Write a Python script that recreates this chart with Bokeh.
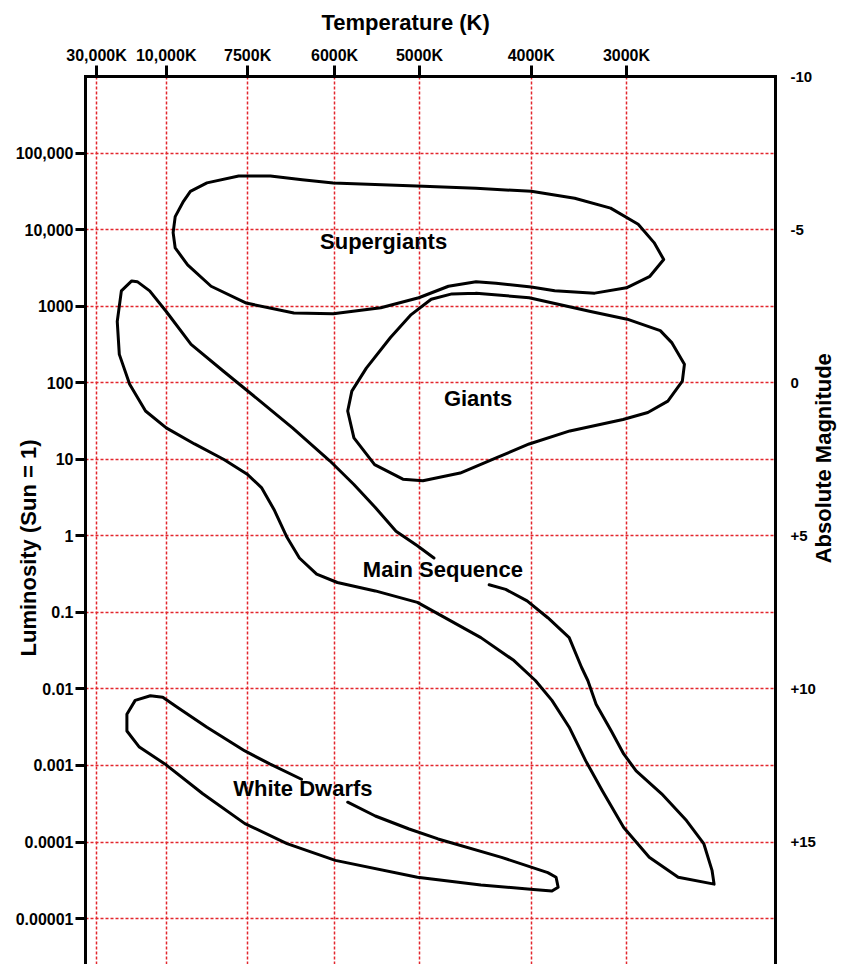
import json
import math
from bokeh.plotting import figure
from bokeh.models import (Range1d, LinearAxis, LinearScale, FixedTicker,
                          CustomJSTickFormatter, Title, ColumnDataSource)
from bokeh.core.properties import value
from bokeh.embed import file_html
from bokeh.resources import INLINE

# ---------------- data ----------------
# horizontal scale: position of each temperature on the diagram (0..10 units across)
temp_labels = ["30,000K", "10,000K", "7500K", "6000K", "5000K", "4000K", "3000K"]
temp_pos = [0.16, 1.17, 2.35, 3.61, 4.84, 6.46, 7.84]

lum_ticks = [1e5, 1e4, 1e3, 100, 10, 1, 0.1, 0.01, 0.001, 1e-4, 1e-5]
lum_labels = ["100,000", "10,000", "1000", "100", "10", "1",
              "0.1", "0.01", "0.001", "0.0001", "0.00001"]
mag_ticks = [-10, -5, 0, 5, 10, 15]

log_lum_min, log_lum_max = -5.6, 6.0

supergiants_x = [1.27, 1.30, 1.42, 1.52, 1.76, 2.22, 2.68, 3.14, 3.59, 4.80, 5.66, 6.46,
                 7.09, 7.61, 8.01, 8.24, 8.38, 8.18, 7.84, 7.38, 6.80, 6.46, 5.95, 5.66,
                 5.26, 4.83, 4.28, 3.59, 3.02, 2.33, 1.82, 1.48, 1.30]
supergiants_logL = [3.96, 4.17, 4.37, 4.50, 4.61, 4.70, 4.70, 4.65, 4.61, 4.57, 4.54, 4.50,
                    4.41, 4.28, 4.07, 3.83, 3.61, 3.39, 3.24, 3.17, 3.20, 3.25, 3.30, 3.32,
                    3.26, 3.11, 2.98, 2.90, 2.91, 3.04, 3.26, 3.54, 3.76]

giants_x = [5.66, 6.43, 7.32, 7.85, 8.33, 8.50, 8.68, 8.65, 8.44, 8.15, 7.79, 7.02,
            6.43, 5.96, 5.43, 4.89, 4.60, 4.19, 3.89, 3.80, 3.86, 4.07, 4.42, 4.72,
            5.01, 5.31]
giants_logL = [3.17, 3.11, 2.93, 2.83, 2.68, 2.52, 2.24, 2.02, 1.76, 1.61, 1.52, 1.37,
               1.20, 1.02, 0.82, 0.72, 0.74, 0.93, 1.28, 1.63, 1.89, 2.19, 2.59, 2.89,
               3.09, 3.16]

main_seq_x = [5.05, 4.81, 4.50, 4.20, 3.89, 3.54, 3.00, 2.53, 2.00, 1.53, 1.17, 0.93,
              0.75, 0.67, 0.52, 0.46, 0.49, 0.64, 0.87, 1.17, 1.58, 2.00, 2.35, 2.55,
              2.74, 2.92, 3.10, 3.35, 3.65, 4.20, 4.81, 5.11, 5.73, 6.21, 6.52, 6.76,
              7.01, 7.25, 7.49, 7.80, 8.17, 8.59, 9.11, 9.08, 8.96, 8.71, 8.35, 7.98,
              7.80, 7.62, 7.40, 7.28, 7.19, 7.01, 6.70, 6.40, 6.09, 5.85]
main_seq_logL = [-0.29, -0.13, 0.06, 0.37, 0.67, 0.98, 1.41, 1.76, 2.15, 2.50, 2.93, 3.20,
                 3.32, 3.33, 3.20, 2.80, 2.37, 1.98, 1.63, 1.41, 1.20, 1.00, 0.80, 0.63,
                 0.33, -0.02, -0.29, -0.50, -0.61, -0.72, -0.87, -1.02, -1.33, -1.63,
                 -1.89, -2.15, -2.50, -2.94, -3.33, -3.81, -4.20, -4.46, -4.55, -4.37,
                 -4.02, -3.72, -3.37, -3.07, -2.85, -2.55, -2.20, -1.89, -1.72, -1.33,
                 -1.07, -0.85, -0.70, -0.64]

white_dwarfs_x = [3.13, 2.67, 2.31, 1.76, 1.33, 1.12, 0.94, 0.72, 0.60, 0.60, 0.78, 1.15,
                  1.70, 2.31, 2.92, 3.62, 4.81, 5.73, 6.49, 6.76, 6.85, 6.82, 6.70, 6.03,
                  5.11, 4.69, 4.20, 3.80]
white_dwarfs_logL = [-3.18, -2.98, -2.81, -2.50, -2.24, -2.11, -2.09, -2.15, -2.33, -2.55,
                     -2.76, -2.98, -3.37, -3.76, -4.02, -4.24, -4.46, -4.56, -4.62, -4.64,
                     -4.59, -4.46, -4.40, -4.20, -3.96, -3.83, -3.66, -3.48]

region_names = ["Supergiants", "Giants", "Main Sequence", "White Dwarfs"]
region_x = [4.32, 5.69, 5.18, 3.15]
region_logL = [3.84, 1.79, -0.44, -3.30]

# ---------------- figure ----------------
FONT = "Liberation Sans"
GRID_RED = "#e3262d"
NBSP = "\u00a0"

p = figure(width=851, height=964,
           x_range=Range1d(0, 10),
           y_range=Range1d(10 ** log_lum_min, 10 ** log_lum_max),
           y_axis_type="log", x_axis_location="above",
           output_backend="svg", toolbar_location=None, title=None,
           min_border_left=85, min_border_right=76,
           min_border_top=75, min_border_bottom=0)
p.outline_line_color = None
p.background_fill_color = "white"
p.border_fill_color = "white"

# grid
p.xgrid.ticker = FixedTicker(ticks=temp_pos)
p.ygrid.ticker = FixedTicker(ticks=lum_ticks)
for g in (p.xgrid[0], p.ygrid[0]):
    g.grid_line_color = GRID_RED
    g.grid_line_dash = "3 2"
    g.grid_line_width = 1.5
    g.grid_line_alpha = 1.0
    g.minor_grid_line_color = None


def style_axis(ax, tick_out, size):
    ax.axis_line_width = 3
    ax.axis_line_color = "black"
    ax.axis_line_cap = "square"
    ax.major_tick_line_width = 3
    ax.major_tick_line_color = "black" if tick_out > 0 else None
    ax.major_tick_out = tick_out
    ax.major_tick_in = 0
    ax.minor_tick_line_color = None
    ax.major_label_text_font = FONT
    ax.major_label_text_font_style = "bold"
    ax.major_label_text_font_size = size
    ax.major_label_text_color = "black"
    ax.axis_label_text_font = FONT
    ax.axis_label_text_font_style = "bold"
    ax.axis_label_text_font_size = "22px"
    ax.axis_label_text_color = "black"


# top temperature axis
xa = p.xaxis[0]
xa.ticker = FixedTicker(ticks=temp_pos)
xa.formatter = CustomJSTickFormatter(code="""
const pos = %s; const lab = %s;
let best = 0;
for (let i = 0; i < pos.length; i++) {
  if (Math.abs(pos[i] - tick) < Math.abs(pos[best] - tick)) best = i;
}
return lab[best];
""" % (json.dumps(temp_pos), json.dumps(temp_labels)))
style_axis(xa, 11, "16px")
xa.major_label_standoff = 2

# left luminosity axis
lum_map = {str(int(round(math.log10(t)))): lab for t, lab in zip(lum_ticks, lum_labels)}
ya = p.yaxis[0]
ya.ticker = FixedTicker(ticks=lum_ticks)
ya.formatter = CustomJSTickFormatter(code="""
const labels = %s;
const e = Math.round(Math.log10(tick));
const s = labels[String(e)];
return s === undefined ? "" : s;
""" % json.dumps(lum_map))
style_axis(ya, 10, "16px")
ya.major_label_standoff = 2
ya.axis_label = "Luminosity (Sun = 1)" + NBSP * 9
ya.axis_label_standoff = -28

# right absolute magnitude axis (M = 5 - 2.5 log L)
p.extra_y_ranges = {"mag": Range1d(start=5 - 2.5 * log_lum_min, end=5 - 2.5 * log_lum_max)}
p.extra_y_scales = {"mag": LinearScale()}
ra = LinearAxis(y_range_name="mag", ticker=FixedTicker(ticks=mag_ticks),
                formatter=CustomJSTickFormatter(
                    code="return tick > 0 ? '+' + tick.toFixed(0) : tick.toFixed(0);"))
style_axis(ra, 0, "15px")
ra.major_label_standoff = 15
p.add_layout(ra, "right")

# title of the magnitude scale, written bottom-to-top starting near M = +6
mag_title_start = 5.9
rt = LinearAxis(y_range_name="mag", ticker=FixedTicker(ticks=[mag_title_start]),
                formatter=CustomJSTickFormatter(code="return 'Absolute Magnitude';"))
rt.axis_line_color = None
rt.major_tick_line_color = None
rt.minor_tick_line_color = None
rt.major_tick_out = 0
rt.major_tick_in = 0
rt.major_label_standoff = 5
rt.major_label_orientation = math.pi / 2
rt.major_label_text_font = FONT
rt.major_label_text_font_style = "bold"
rt.major_label_text_font_size = "22px"
rt.major_label_text_color = "black"
p.add_layout(rt, "right")

# top title
p.add_layout(Title(text="Temperature (K)", align="left", offset=236,
                   vertical_align="middle", standoff=16,
                   text_font=FONT, text_font_style="bold",
                   text_font_size="22px", text_color="black"), "above")

# region outlines
def to_lum(logs):
    return [10 ** v for v in logs]

closed = [(supergiants_x, supergiants_logL), (giants_x, giants_logL)]
for xs, ls in closed:
    p.line(xs + xs[:1], to_lum(ls + ls[:1]), line_color="black", line_width=3,
           line_join="round", line_cap="round")
for xs, ls in [(main_seq_x, main_seq_logL), (white_dwarfs_x, white_dwarfs_logL)]:
    p.line(xs, to_lum(ls), line_color="black", line_width=3,
           line_join="round", line_cap="round")

# region names
src = ColumnDataSource(dict(x=region_x, y=to_lum(region_logL), name=region_names))
p.text(x="x", y="y", text="name", source=src, text_font=value(FONT),
       text_font_style="bold", text_font_size="22px", text_color="black",
       text_align="center", text_baseline="middle")

open("out.html", "w").write(file_html(p, INLINE))
